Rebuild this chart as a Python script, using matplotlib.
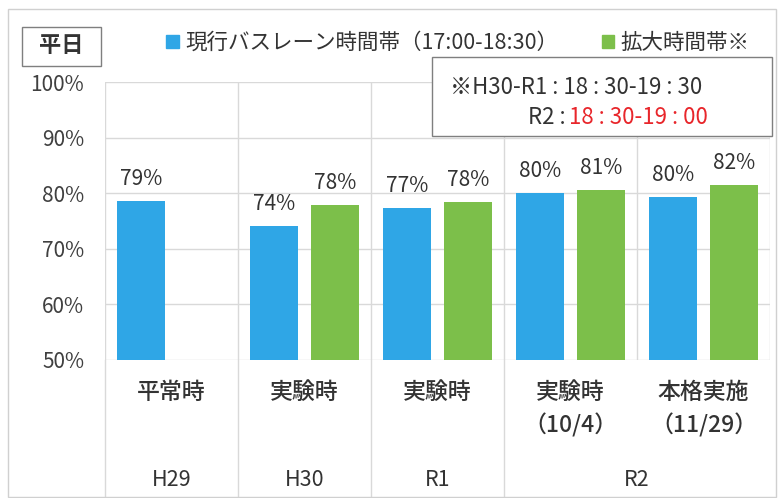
import matplotlib.pyplot as plt
from matplotlib.patches import Patch, Rectangle
import numpy as np

plt.rcParams['font.family'] = ['Noto Sans CJK JP', 'DejaVu Sans']

# データ
categories = ['平常時', '実験時', '実験時', '実験時\n（10/4）', '本格実施\n（11/29）']
years = ['H29', 'H30', 'R1', 'R2']
year_span = [(0, 1), (1, 2), (2, 3), (3, 5)]
current_vals = [78.6, 74.1, 77.3, 80.0, 79.3]
current_labels = ['79%', '74%', '77%', '80%', '80%']
extended_vals = [np.nan, 77.9, 78.4, 80.6, 81.5]
extended_labels = ['', '78%', '78%', '81%', '82%']
yticks = [50, 60, 70, 80, 90, 100]

blue = '#2fa6e6'
green = '#7cbf4a'
txt = '#333333'
W, H = 783, 498

def fx(x):
    return x / W

def fy(y):
    return 1 - y / H

fig = plt.figure(figsize=(7.83, 4.98), dpi=100)
ax = fig.add_axes([fx(105), fy(360), fx(770) - fx(105), fy(82) - fy(360)])

x = np.arange(len(categories)) + 0.5
off = 0.23
bw = 0.36
ax.bar(x - off, current_vals, bw, color=blue, zorder=3)
ax.bar(x + off, extended_vals, bw, color=green, zorder=3)

for xi, v, lab in zip(x - off, current_vals, current_labels):
    ax.text(xi, v + 2.0, lab, ha='center', va='bottom', fontsize=15, color=txt)
for xi, v, lab in zip(x + off, extended_vals, extended_labels):
    if lab:
        ax.text(xi, v + 2.0, lab, ha='center', va='bottom', fontsize=15, color=txt)

ax.set_xlim(0, len(categories))
ax.set_ylim(50, 100)
ax.set_yticks(yticks)
ax.set_yticklabels([f'{t}%' for t in yticks], fontsize=15, color='#404040')
ax.set_xticks([])
ax.tick_params(axis='y', length=0, pad=15)
for s in ax.spines.values():
    s.set_visible(False)

gc = '#d9d9d9'
for t in yticks:
    ax.axhline(t, color=gc, lw=1, zorder=1)
for i in range(len(categories) + 1):
    ax.axvline(i, color=gc, lw=1, zorder=1)

# 下側のラベル
trans = ax.get_xaxis_transform()
for xi, c in zip(x, categories):
    ax.text(xi, -0.075, c, transform=trans, ha='center', va='top', fontsize=16.5,
            color=txt, linespacing=1.5, fontweight='medium')
for (a, b), yr in zip(year_span, years):
    ax.text((a + b) / 2, -0.43, yr, transform=trans, ha='center', va='center',
            fontsize=15.5, color=txt)
for i in [0, 1, 2, 3]:
    ax.plot([i, i], [0, -0.5], transform=trans, color=gc, lw=1, clip_on=False)

# 凡例
handles = [Patch(color=blue, label='現行バスレーン時間帯（17:00-18:30）'),
           Patch(color=green, label='拡大時間帯※')]
fig.legend(handles=handles, loc='center', bbox_to_anchor=(fx(458), fy(43)), ncol=2,
           frameon=False, fontsize=15.5, handlelength=0.6, handleheight=0.6,
           handletextpad=0.3, columnspacing=2.0, labelcolor=txt)

# 平日ボックス
fig.patches.append(Rectangle((fx(22), fy(66)), fx(101) - fx(22), fy(27) - fy(66),
                             transform=fig.transFigure, fill=False, ec='#7f7f7f', lw=1))
fig.text(fx(61), fy(46), '平日', ha='center', va='center', fontsize=16,
         fontweight='bold', color=txt)

# 注記ボックス
fig.patches.append(Rectangle((fx(432), fy(136)), fx(772) - fx(432), fy(57) - fy(136),
                             transform=fig.transFigure, fc='white', ec='#7f7f7f', lw=1,
                             zorder=5))
fig.text(fx(450), fy(87), '※H30-R1 : 18 : 30-19 : 30', ha='left', va='center',
         fontsize=16, color=txt, zorder=6)
fig.text(fx(566), fy(117), 'R2 :', ha='right', va='center', fontsize=16, color=txt, zorder=6)
fig.text(fx(569), fy(117), '18 : 30-19 : 00', ha='left', va='center', fontsize=16,
         color='#e8262b', zorder=6)

# 外枠
fig.patches.append(Rectangle((fx(8), fy(497)), fx(776) - fx(8), fy(9) - fy(497),
                             transform=fig.transFigure, fill=False, ec='#d0d0d0', lw=1))

fig.savefig('out.png', dpi=100)
